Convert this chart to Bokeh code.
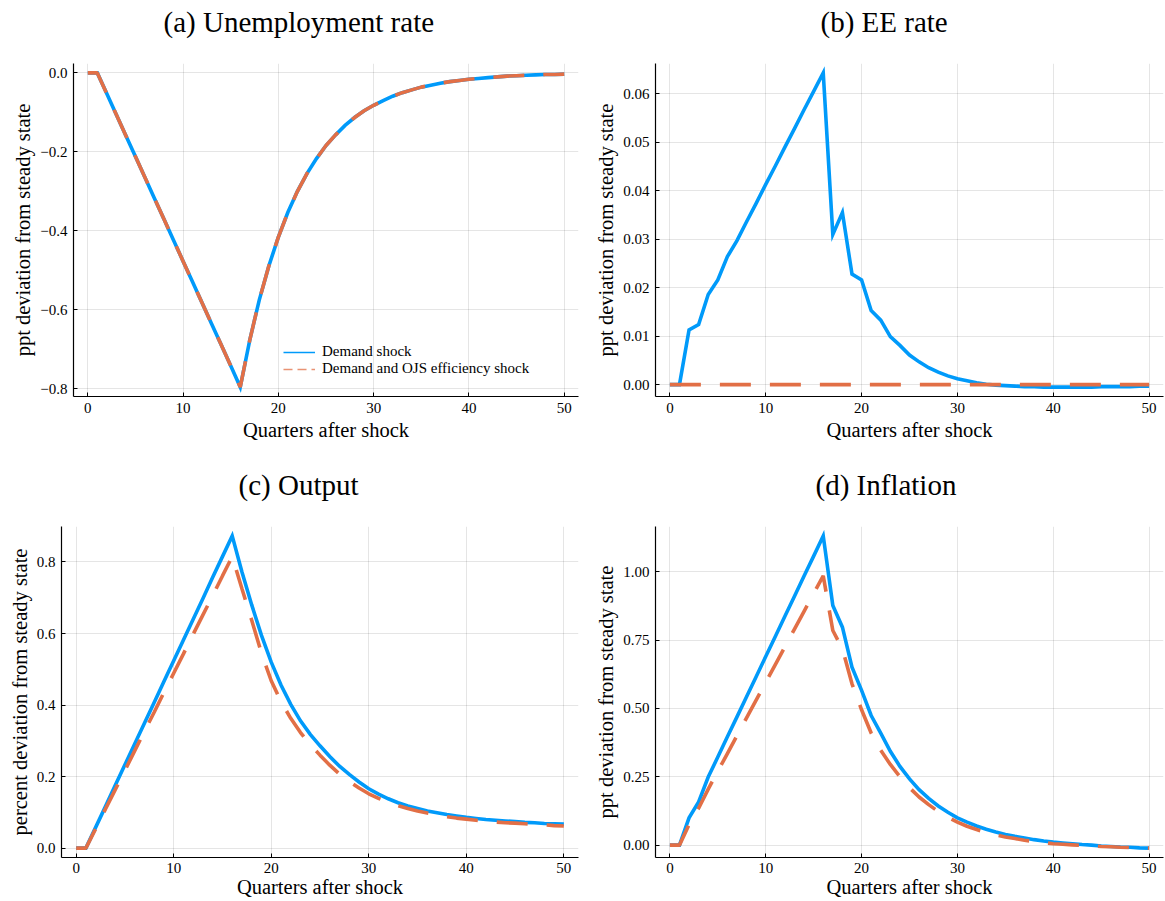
from bokeh.plotting import figure
from bokeh.layouts import column, row
from bokeh.models import (Range1d, FixedTicker, CustomJSTickFormatter, Title,
                          Legend, LegendItem)
from bokeh.embed import file_html
from bokeh.resources import INLINE

# ---------------- data ----------------
quarters = list(range(0, 51))
x_ticks = [0, 10, 20, 30, 40, 50]

unemp_demand = [0.000, 0.000, -0.053, -0.106, -0.159, -0.212, -0.265, -0.318, -0.371,
                -0.424, -0.477, -0.530, -0.583, -0.636, -0.689, -0.742, -0.796,
                -0.677, -0.575, -0.489, -0.416, -0.353, -0.300, -0.255, -0.217, -0.184,
                -0.157, -0.133, -0.113, -0.096, -0.082, -0.070, -0.059, -0.050, -0.043,
                -0.036, -0.031, -0.026, -0.022, -0.019, -0.016, -0.014, -0.012, -0.010,
                -0.008, -0.007, -0.006, -0.005, -0.004, -0.004, -0.003]
unemp_ojs = [0.000, 0.000, -0.053, -0.106, -0.159, -0.212, -0.265, -0.318, -0.371,
             -0.424, -0.477, -0.530, -0.583, -0.636, -0.689, -0.742, -0.796,
             -0.677, -0.575, -0.489, -0.416, -0.353, -0.300, -0.255, -0.217, -0.184,
             -0.157, -0.133, -0.113, -0.096, -0.082, -0.070, -0.059, -0.050, -0.043,
             -0.036, -0.031, -0.026, -0.022, -0.019, -0.016, -0.014, -0.012, -0.010,
             -0.008, -0.007, -0.006, -0.005, -0.004, -0.004, -0.003]

ee_demand = [0.0, 0.0, 0.0113, 0.0124, 0.0186, 0.0216, 0.0264, 0.0297, 0.0336, 0.0374,
             0.0413, 0.0451, 0.0490, 0.0528, 0.0567, 0.0605, 0.0643,
             0.0310, 0.0355, 0.0228, 0.0216, 0.0153, 0.0133, 0.0099, 0.0081, 0.0061,
             0.0047, 0.0035, 0.0026, 0.0018, 0.0012, 0.0008, 0.0004, 0.0001, -0.0001,
             -0.0002, -0.0003, -0.0004, -0.0004, -0.0005, -0.0005, -0.0005, -0.0005,
             -0.0005, -0.0005, -0.0004, -0.0004, -0.0004, -0.0004, -0.0003, -0.0003]
ee_ojs = [0.0, 0.0, 0.0, 0.0, 0.0, 0.0, 0.0, 0.0, 0.0, 0.0, 0.0, 0.0, 0.0, 0.0, 0.0, 0.0,
          0.0, 0.0, 0.0, 0.0, 0.0, 0.0, 0.0, 0.0, 0.0, 0.0, 0.0, 0.0, 0.0, 0.0, 0.0, 0.0,
          0.0, 0.0, 0.0, 0.0, 0.0, 0.0, 0.0, 0.0, 0.0, 0.0, 0.0, 0.0, 0.0, 0.0, 0.0, 0.0,
          0.0, 0.0, 0.0]

output_demand = [0.0, 0.0, 0.058, 0.116, 0.175, 0.233, 0.291, 0.349, 0.407, 0.466,
                 0.524, 0.582, 0.640, 0.698, 0.757, 0.815, 0.873,
                 0.772, 0.680, 0.595, 0.520, 0.456, 0.402, 0.356, 0.318, 0.286, 0.256,
                 0.229, 0.206, 0.185, 0.166, 0.151, 0.138, 0.127, 0.118, 0.111, 0.104,
                 0.099, 0.094, 0.090, 0.086, 0.083, 0.080, 0.078, 0.076, 0.074, 0.072,
                 0.071, 0.069, 0.068, 0.067]
output_ojs = [0.0, 0.0, 0.054, 0.109, 0.163, 0.217, 0.272, 0.326, 0.380, 0.435,
              0.489, 0.543, 0.598, 0.652, 0.706, 0.761, 0.815,
              0.725, 0.637, 0.545, 0.468, 0.410, 0.363, 0.323, 0.289, 0.260, 0.232,
              0.207, 0.186, 0.168, 0.152, 0.139, 0.128, 0.119, 0.111, 0.104, 0.098,
              0.093, 0.088, 0.084, 0.081, 0.078, 0.075, 0.073, 0.071, 0.070, 0.068,
              0.066, 0.065, 0.063, 0.062]

infl_demand = [0.0, 0.0, 0.100, 0.158, 0.249, 0.322, 0.396, 0.469, 0.543, 0.616,
               0.690, 0.763, 0.837, 0.910, 0.984, 1.057, 1.131,
               0.876, 0.797, 0.651, 0.566, 0.474, 0.410, 0.343, 0.288, 0.242, 0.203,
               0.171, 0.143, 0.120, 0.100, 0.084, 0.070, 0.058, 0.048, 0.039, 0.032,
               0.026, 0.020, 0.015, 0.011, 0.008, 0.005, 0.002, 0.000, -0.003, -0.005,
               -0.007, -0.008, -0.010, -0.011]
infl_ojs = [0.0, 0.0, 0.075, 0.135, 0.205, 0.270, 0.335, 0.400, 0.465, 0.530,
            0.595, 0.660, 0.725, 0.790, 0.855, 0.920, 0.985,
            0.785, 0.718, 0.590, 0.495, 0.410, 0.347, 0.295, 0.250, 0.210, 0.176,
            0.148, 0.123, 0.102, 0.084, 0.069, 0.057, 0.046, 0.037, 0.030, 0.024,
            0.018, 0.013, 0.009, 0.005, 0.003, 0.001, -0.001, -0.003, -0.005, -0.006,
            -0.008, -0.009, -0.010, -0.011]

yticks_a = [-0.8, -0.6, -0.4, -0.2, 0.0]
yticks_b = [0.00, 0.01, 0.02, 0.03, 0.04, 0.05, 0.06]
yticks_c = [0.0, 0.2, 0.4, 0.6, 0.8]
yticks_d = [0.00, 0.25, 0.50, 0.75, 1.00]

titles = ["(a) Unemployment rate", "(b) EE rate", "(c) Output", "(d) Inflation"]
ylabels = ["ppt deviation from steady state", "ppt deviation from steady state",
           "percent deviation from steady state", "ppt deviation from steady state"]
xlabel = "Quarters after shock"
legend_labels = ["Demand shock", "Demand and OJS efficiency shock"]

# ---------------- style ----------------
FONT = "Liberation Serif"
BLUE = "#009AFA"
ORANGE = "#E26F46"


def widen(lo, hi):
    d = (hi - lo) * 0.03
    return lo - d, hi + d


def make_panel(title, ylabel, blue, orange, yticks, digits, width, height,
               bl, br, bt, bb, title_offset, label_standoff, axlabel_standoff):
    ylo, yhi = widen(min(min(blue), min(orange)), max(max(blue), max(orange)))
    p = figure(width=width, height=height, x_range=Range1d(-1.5, 51.5),
               y_range=Range1d(ylo, yhi), output_backend="svg",
               toolbar_location=None, min_border_left=bl, min_border_right=br,
               min_border_top=bt, min_border_bottom=bb)
    p.outline_line_color = None
    p.background_fill_color = "white"
    p.border_fill_color = "white"

    # blank spacer next to the frame first, then the title outside it
    p.add_layout(Title(text=" ", text_color="white", standoff=0, text_font=FONT,
                       text_font_size="20px"), "above")
    p.add_layout(Title(text=title, align="left", offset=title_offset,
                       vertical_align="top", standoff=0,
                       text_font=FONT, text_font_size="29px",
                       text_font_style="normal", text_color="#000000"), "above")

    xa = p.below[0]
    ya = p.left[0]
    xa.ticker = FixedTicker(ticks=x_ticks)
    ya.ticker = FixedTicker(ticks=yticks)
    ya.formatter = CustomJSTickFormatter(
        code="return tick.toFixed(%d).replace('-', '\u2212');" % digits)
    xa.axis_label = xlabel
    ya.axis_label = ylabel
    for ax in (xa, ya):
        ax.axis_line_color = "#000000"
        ax.axis_line_width = 1.2
        ax.major_tick_in = 4
        ax.major_tick_out = 0
        ax.major_tick_line_color = "#000000"
        ax.minor_tick_line_color = None
        ax.major_label_text_font = FONT
        ax.major_label_text_font_size = "15px"
        ax.major_label_text_color = "#000000"
        ax.major_label_standoff = 6
        ax.axis_label_text_font = FONT
        ax.axis_label_text_font_size = "20.5px"
        ax.axis_label_text_font_style = "normal"
        ax.axis_label_text_color = "#000000"
        ax.axis_label_standoff = 3
    xa.major_label_standoff = label_standoff
    xa.axis_label_standoff = axlabel_standoff
    for g in (p.xgrid[0], p.ygrid[0]):
        g.grid_line_color = "#000000"
        g.grid_line_alpha = 0.1
        g.grid_line_width = 1

    p.line(quarters, blue, line_color=BLUE, line_width=3.6, line_join="miter")
    p.line(quarters, orange, line_color=ORANGE, line_width=3.6, line_dash="31 19")
    return p


TOP_H, BOT_H = 450, 451
A_W, B_W = 590, 575

pa = make_panel(titles[0], ylabels[0], unemp_demand, unemp_ojs, yticks_a, 1,
                A_W, TOP_H, 73, 12, 63, 54, 90, 6, 3)
pb = make_panel(titles[1], ylabels[1], ee_demand, ee_ojs, yticks_b, 2,
                B_W, TOP_H, 65, 2, 63, 54, 165, 6, 3)
pc = make_panel(titles[2], ylabels[2], output_demand, output_ojs, yticks_c, 1,
                A_W, BOT_H, 61, 12, 76, 44, 177, 5, 0)
pd_ = make_panel(titles[3], ylabels[3], infl_demand, infl_ojs, yticks_d, 2,
                 B_W, BOT_H, 65, 2, 76, 44, 160, 5, 0)

# legend in panel (a), with thin sample lines (renderers lie outside the visible range)
r1 = pa.line([-100, -99], [-100, -100], line_color=BLUE, line_width=1.5)
r2 = pa.line([-100, -99], [-100, -100], line_color=ORANGE, line_width=1.5,
             line_dash="9 5", line_alpha=0.75)
legend = Legend(items=[LegendItem(label=legend_labels[0], renderers=[r1]),
                       LegendItem(label=legend_labels[1], renderers=[r2])],
                location=(210, 19), padding=0, margin=0, spacing=0,
                glyph_width=32, glyph_height=16, label_height=16, label_standoff=7,
                label_text_font=FONT, label_text_font_size="15px",
                label_text_color="#000000",
                background_fill_alpha=0, border_line_alpha=0)
pa.add_layout(legend)

layout = column(row(pa, pb), row(pc, pd_))
open("out.html", "w").write(file_html(layout, INLINE))
